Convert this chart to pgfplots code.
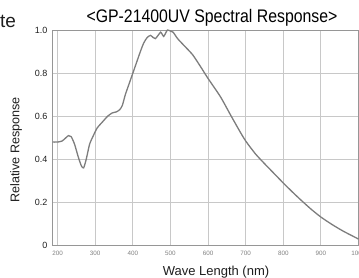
\documentclass[border=0pt]{standalone}
\usepackage{pgfplots}
\pgfplotsset{compat=1.18}
\usepackage{fontspec}
\setmainfont{Liberation Sans}
\usetikzlibrary{calc}
\definecolor{gridc}{RGB}{200,200,200}
\definecolor{axc}{RGB}{150,150,150}
\definecolor{curvec}{RGB}{125,125,125}
\definecolor{txt}{RGB}{30,30,30}
\begin{document}
\begin{tikzpicture}
\begin{axis}[name=ax, scale only axis, width=306.5pt, height=215.5pt,
  xmin=185, xmax=1000, ymin=0, ymax=1,
  xtick={200,300,400,500,600,700,800,900,1000},
  ytick={0,0.2,0.4,0.6,0.8,1.0},
  yticklabels={0,0.2,0.4,0.6,0.8,1.0},
  xticklabels={200,300,400,500,600,700,800,900,1000},
  grid=major, major grid style={gridc, line width=0.9pt},
  axis line style={axc, line width=0.9pt},
  major tick length=0pt,
  xticklabel style={font=\fontsize{6.3}{7}\selectfont, text=gray, yshift=-2pt},
  yticklabel style={font=\fontsize{9}{10}\selectfont, text=txt, xshift=-1pt},
  clip=false,
]
\addplot[curvec, line width=1.3pt, smooth, tension=0.4] coordinates {
(187,0.48) (200,0.48) (212,0.485) (222,0.50) (229,0.51) (236,0.505)
(245,0.47) (255,0.41) (263,0.37) (269,0.36) (276,0.40) (285,0.47)
(295,0.51) (305,0.545) (320,0.575) (333,0.60) (345,0.615) (356,0.62)
(365,0.63) (372,0.65) (380,0.70) (390,0.75) (400,0.80) (410,0.85)
(420,0.90) (429,0.94) (438,0.965) (447,0.975) (454,0.965) (460,0.96)
(467,0.975) (474,0.99) (478,0.98) (482,0.97) (487,0.985) (492,1.0)
(500,0.995) (507,0.99) (519,0.96) (535,0.93) (559,0.885) (580,0.83)
(600,0.775) (633,0.69) (660,0.605) (686,0.525) (700,0.485) (726,0.425)
(750,0.38) (775,0.335) (800,0.29) (825,0.247) (850,0.206) (875,0.167)
(900,0.132) (930,0.097) (960,0.066) (1000,0.03)
};
\end{axis}
\node[font=\fontsize{18.2}{20}\selectfont, text=black, anchor=base] at ($(ax.south west)+(160pt,222.5pt)$) {\scalebox{0.87}[1]{<GP-21400UV Spectral Response>}};
\node[font=\fontsize{13}{14}\selectfont, text=txt, anchor=base] at ($(ax.south west)+(164pt,-30.2pt)$) {Wave Length (nm)};
\node[font=\fontsize{12.6}{14}\selectfont, text=txt, rotate=90] at ($(ax.south west)+(-36pt,95.5pt)$) {Relative Response};
\node[font=\fontsize{19}{20}\selectfont, text=txt, anchor=base west, inner sep=0pt] at ($(ax.south west)+(-52pt,217.5pt)$) {te};
\pgfresetboundingbox
\path[use as bounding box] ($(ax.south west)+(-52pt,-32.5pt)$) rectangle ($(ax.south west)+(307pt,245.5pt)$);
\end{tikzpicture}
\end{document}
